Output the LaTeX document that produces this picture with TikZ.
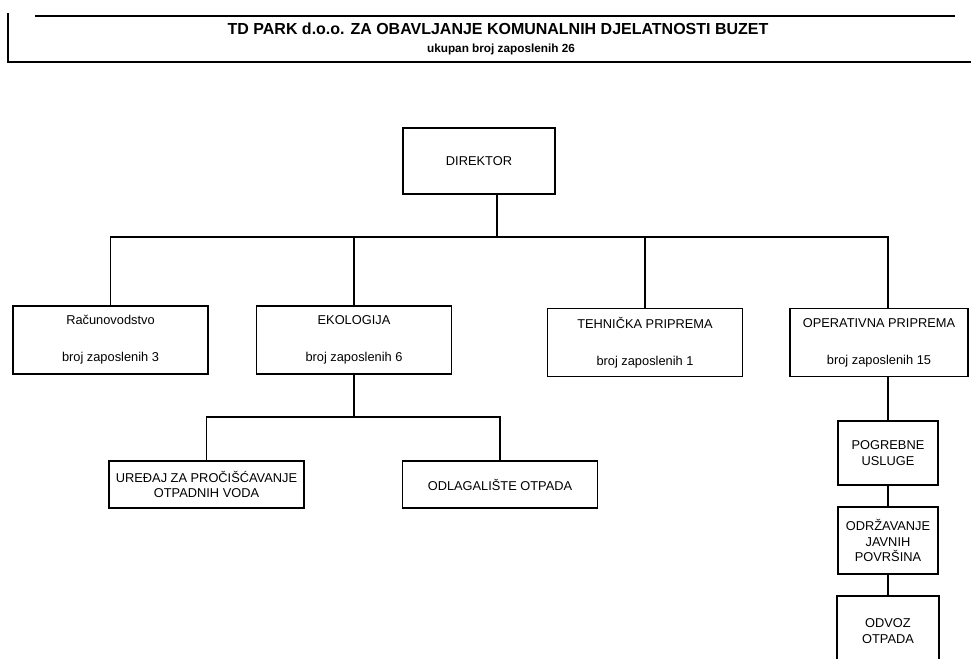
\documentclass[tikz,border=0pt]{standalone}
\usepackage{fontspec}
\setmainfont{Liberation Sans}

\begin{document}
\begin{tikzpicture}[x=0.02cm, y=-0.02cm, line width=1pt,
	every node/.style={font=\fontsize{7.3}{9}\selectfont, align=center, inner sep=0pt},
	unit/.style={draw, minimum width=3.9cm, minimum height=1.36cm},
	subunit/.style={draw, minimum width=3.9cm, minimum height=0.94cm},
	opsunit/.style={draw, minimum width=2cm, minimum height=1.3cm}]
	\useasboundingbox (0,0) rectangle (971,659);
	% header
	\draw (35,16) -- (955,16);
	\draw (8,13) -- (8,62) -- (971,62);
	\node[font=\fontsize{9.1}{10}\selectfont\bfseries] (title) at (498,29) {TD PARK d.o.o. ZA OBAVLJANJE KOMUNALNIH DJELATNOSTI BUZET};
	\node[font=\fontsize{6.7}{8}\selectfont\bfseries] (total) at (501,49) {ukupan broj zaposlenih 26};
	
	\node[draw, minimum width=3.04cm, minimum height=1.32cm] (dir) at (479,161) {DIREKTOR};
	\coordinate (bus) at (497,237);
	
	\node[unit] (racun) at (110.5,340) {Računovodstvo\\[12pt]broj zaposlenih 3};
	\node[unit] (eko) at (354,340) {EKOLOGIJA\\[12pt]broj zaposlenih 6};
	\node[unit] (teh) at (645,342.5) {TEHNIČKA PRIPREMA\\[12pt]broj zaposlenih 1};
	\node[unit, minimum width=3.56cm] (oper) at (879,342.5) {OPERATIVNA PRIPREMA\\[12pt]broj zaposlenih 15};
	
	\node[subunit] (uredaj) at (206.5,484.5) {UREĐAJ ZA PROČIŠĆAVANJE\\OTPADNIH VODA};
	\node[subunit] (odlag) at (500,484.5) {ODLAGALIŠTE OTPADA};
	\coordinate (ekobus) at (354,417);
	
	\node[opsunit, minimum height=1.28cm] (pogreb) at (888,453) {POGREBNE\\USLUGE};
	\node[opsunit, minimum height=1.34cm] (odrz) at (888,540.5) {ODRŽAVANJE\\JAVNIH\\POVRŠINA};
	\node[minimum width=2cm, minimum height=1.36cm] (odvoz) at (888,631) {ODVOZ\\OTPADA};
	\draw (odvoz.south west) -- (odvoz.north west) -- (odvoz.north east) -- (odvoz.south east);
	
	% connectors
	\draw (dir.south -| bus) -- (bus);
	\draw (racun.north) |- (bus) -| (oper.north -| pogreb.north);
	\draw (eko.north) -- (eko.north |- bus);
	\draw (teh.north) -- (teh.north |- bus);
	\draw (eko.south) -- (ekobus);
	\draw (uredaj.north) |- (ekobus) -| (odlag.north);
	\draw (oper.south -| pogreb.north) -- (pogreb.north);
	\draw (pogreb.south) -- (odrz.north);
	\draw (odrz.south) -- (odvoz.north);
\end{tikzpicture}
\end{document}
